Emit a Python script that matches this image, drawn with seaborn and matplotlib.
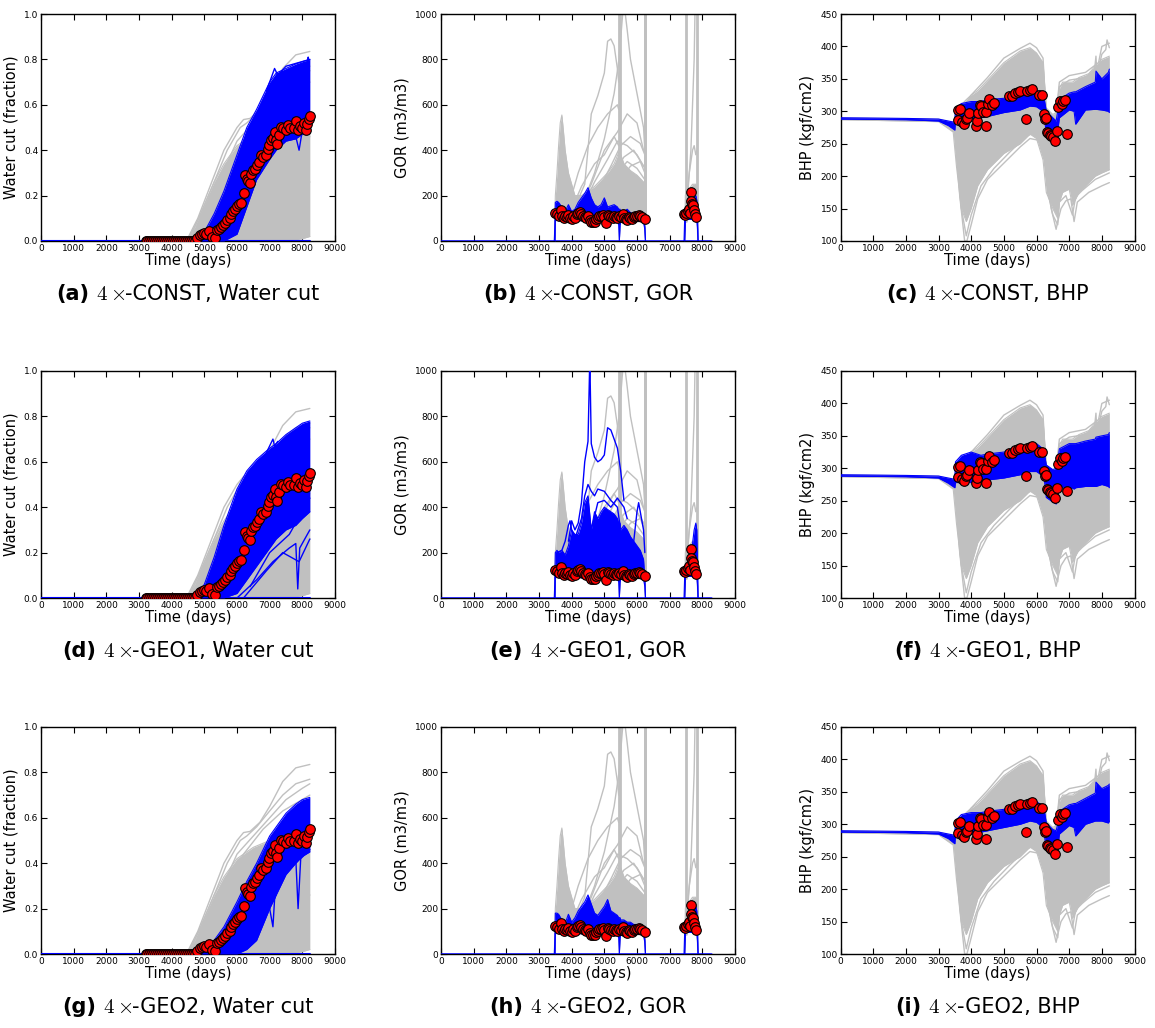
import matplotlib
matplotlib.use("Agg")
import matplotlib.pyplot as plt
import seaborn as sns
import pandas as pd
from matplotlib.offsetbox import TextArea, HPacker, AnnotationBbox

GRAY = "#c0c0c0"
BLUE = "#0000ff"
RED = "#ff0000"

# ------------------------------------------------------------------ observations
wc_obs_zero_t = [3200, 3260, 3320, 3380, 3440, 3500, 3560, 3620, 3680, 3740, 3800, 3860, 3920,
                 3980, 4040, 4100, 4160, 4220, 4280, 4340, 4400, 4460, 4520, 4580, 4640, 4700]
wc_obs_t = [4781, 4862, 4924, 4985, 5046, 5138, 5229, 5331, 5392, 5454,
            5515, 5576, 5637, 5698, 5780, 5831, 5882, 5943, 6004, 6065,
            6126, 6218, 6259, 6300, 6341, 6412, 6443, 6494, 6555, 6616,
            6677, 6728, 6799, 6891, 6942, 6993, 7054, 7105, 7156, 7207,
            7238, 7278, 7339, 7411, 7492, 7553, 7635, 7757, 7819, 7880,
            7941, 7992, 8063, 8114, 8155, 8196, 8237]
wc_obs_v = [0.015, 0.025, 0.032, 0.037, 0.030, 0.044, 0.018, 0.013, 0.047, 0.053,
            0.062, 0.072, 0.079, 0.091, 0.103, 0.120, 0.132, 0.143, 0.153, 0.162,
            0.169, 0.213, 0.290, 0.275, 0.265, 0.254, 0.297, 0.312, 0.319, 0.334,
            0.349, 0.378, 0.371, 0.379, 0.407, 0.422, 0.444, 0.454, 0.478, 0.444,
            0.426, 0.468, 0.501, 0.496, 0.487, 0.509, 0.500, 0.500, 0.529, 0.488,
            0.506, 0.496, 0.521, 0.490, 0.515, 0.537, 0.551]

gor_obs_t = [3500, 3550, 3600, 3660, 3700, 3750, 3800, 3850, 3900, 3950,
             4000, 4050, 4100, 4150, 4200, 4250, 4300, 4350, 4400, 4450,
             4500, 4550, 4600, 4650, 4700, 4750, 4800, 4850, 4900, 4950,
             5000, 5060, 5100, 5150, 5200, 5250, 5300, 5350, 5400, 5450,
             5500, 5560, 5600, 5650, 5700, 5750, 5800, 5850, 5900, 5950,
             6000, 6050, 6100, 6150, 6240,
             7450, 7480, 7510, 7550, 7580, 7610, 7640, 7660, 7690, 7720, 7750, 7780, 7820]
gor_obs_v = [122, 118, 112, 135, 108, 102, 110, 104, 114, 100,
             95, 110, 100, 118, 125, 128, 120, 112, 106, 100,
             110, 92, 85, 82, 85, 95, 100, 108, 110, 115,
             105, 80, 115, 112, 106, 100, 110, 105, 100, 110,
             105, 119, 100, 96, 92, 104, 100, 95, 104, 110,
             110, 115, 108, 104, 95,
             120, 115, 125, 130, 140, 125, 215, 175, 165, 160, 135, 120, 105]

bhp_obs_t = [3610, 3660, 3610, 3730, 3780, 3830, 3880, 3930, 4150, 4180,
             4220, 4260, 4300, 4370, 4450, 4450, 4500, 4550, 4650, 4700,
             5160, 5250, 5350, 5420, 5490, 5680, 5720, 5790, 5850, 6070,
             6180, 6220, 6260, 6290, 6310, 6350, 6400, 6450, 6500, 6560,
             6630, 6670, 6710, 6770, 6820, 6870, 6940]
bhp_obs_v = [302, 303, 286, 283, 280, 288, 289, 298, 278, 285,
             298, 309, 308, 299, 299, 278, 311, 319, 309, 313,
             323, 324, 328, 330, 332, 288, 331, 333, 334, 325,
             325, 296, 288, 290, 268, 266, 264, 262, 260, 254,
             269, 307, 316, 312, 316, 318, 265]

# ------------------------------------------------------------------ water cut ensembles
wc_prior_t = [4450, 4700, 5000, 5300, 5600, 6000, 6500, 7000, 7500, 8000, 8230]
wc_prior_hi = [0.0, 0.06, 0.16, 0.26, 0.34, 0.42, 0.47, 0.50, 0.53, 0.55, 0.56]
wc_prior_lo = [0.0, 0.0, 0.0, 0.0, 0.0, 0.0, 0.0, 0.0, 0.0, 0.01, 0.02]
wc_prior_lines = [
    ([4450, 4800, 5200, 5600, 6000, 6200, 6400, 6700, 7000, 7400, 7800, 8230],
     [0.0, 0.10, 0.25, 0.40, 0.50, 0.535, 0.54, 0.58, 0.65, 0.76, 0.82, 0.835]),
    ([4500, 4900, 5300, 5700, 6100, 6300, 6600, 7000, 7400, 7800, 8230],
     [0.0, 0.12, 0.26, 0.40, 0.50, 0.52, 0.56, 0.63, 0.70, 0.75, 0.77]),
    ([4600, 5000, 5500, 6000, 6500, 7000, 7500, 8000, 8230],
     [0.0, 0.10, 0.28, 0.44, 0.52, 0.60, 0.68, 0.73, 0.75]),
    ([4700, 5200, 5700, 6200, 6800, 7400, 8230],
     [0.0, 0.12, 0.30, 0.44, 0.55, 0.63, 0.70]),
    ([5600, 6200, 6800, 7400, 8000, 8230], [0.0, 0.10, 0.22, 0.33, 0.42, 0.46]),
    ([6300, 6900, 7500, 8000, 8230], [0.0, 0.06, 0.14, 0.22, 0.26]),
]
wc_post_t = [4700, 5000, 5300, 5600, 6000, 6300, 6600, 7000, 7200, 7500, 7800, 8000, 8230]
wc_const_hi = [0, 0.04, 0.12, 0.22, 0.38, 0.50, 0.58, 0.70, 0.74, 0.76, 0.78, 0.79, 0.80]
wc_const_lo = [0, 0, 0, 0, 0.03, 0.15, 0.27, 0.36, 0.40, 0.44, 0.45, 0.47, 0.48]
wc_geo1_hi = [0, 0.06, 0.18, 0.32, 0.48, 0.56, 0.61, 0.66, 0.68, 0.72, 0.75, 0.77, 0.78]
wc_geo1_lo = [0, 0, 0, 0, 0.02, 0.08, 0.14, 0.22, 0.26, 0.30, 0.32, 0.35, 0.38]
wc_geo2_hi = [0, 0.02, 0.06, 0.12, 0.23, 0.32, 0.40, 0.52, 0.56, 0.62, 0.66, 0.68, 0.69]
wc_geo2_lo = [0, 0, 0, 0, 0, 0.02, 0.06, 0.20, 0.26, 0.35, 0.40, 0.43, 0.45]
wc_const_lines = [
    ([6900, 7050, 7150, 7250, 7500, 8230], [0.66, 0.72, 0.76, 0.73, 0.77, 0.80]),
    ([7500, 7800, 7900, 7980, 8230], [0.45, 0.46, 0.40, 0.47, 0.49]),
    ([8150, 8180, 8200], [0.78, 0.81, 0.79]),
]
wc_geo1_lines = [
    ([6900, 7100, 7150, 7250], [0.64, 0.70, 0.67, 0.69]),
    ([6000, 6600, 7100, 7600, 7800, 7860, 7920, 8230], [0.0, 0.08, 0.16, 0.22, 0.24, 0.04, 0.22, 0.30]),
    ([6200, 6900, 7400, 7900, 8230], [0.0, 0.12, 0.20, 0.16, 0.26]),
    ([6400, 7000, 7600, 8230], [0.05, 0.20, 0.28, 0.44]),
]
wc_geo2_lines = [
    ([6700, 6950, 7100, 7150, 7300], [0.18, 0.24, 0.12, 0.24, 0.32]),
    ([7500, 7800, 7870, 7950, 8230], [0.40, 0.42, 0.20, 0.42, 0.46]),
]

# ------------------------------------------------------------------ GOR ensembles
gor_prior_t = [3470, 3500, 3550, 3600, 3650, 3700, 3750, 3800, 3900, 4000, 4100, 4300, 4500,
               4700, 4900, 5100, 5300, 5440, 5460, 5480, 5600, 5800, 6000, 6200, 6240, 6260]
gor_prior_hi = [0, 200, 300, 420, 520, 555, 480, 400, 300, 250, 200, 200, 220,
                240, 270, 300, 340, 390, 390, 390, 340, 310, 290, 260, 240, 0]
gor_prior_lo = [0, 90, 90, 90, 90, 90, 90, 90, 90, 90, 88, 88, 85,
                85, 85, 85, 85, 85, 0, 85, 85, 85, 85, 85, 60, 0]
gor_prior2_t = [7460, 7480, 7500, 7600, 7700, 7800, 7840, 7860]
gor_prior2_hi = [0, 200, 220, 230, 250, 250, 230, 0]
gor_prior2_lo = [0, 90, 95, 95, 95, 95, 90, 0]
gor_prior_lines = [
    ([4100, 4400, 4600, 4800, 5000, 5100, 5200, 5300, 5400, 5440],
     [150, 250, 560, 640, 740, 880, 890, 860, 760, 700]),
    ([4300, 4700, 5000, 5300, 5450, 5550, 5600, 5700, 5800, 6000, 6200, 6240],
     [150, 300, 450, 650, 800, 980, 1050, 930, 800, 650, 500, 400]),
    ([4200, 4600, 5000, 5400, 5700, 6000, 6200], [130, 250, 400, 480, 560, 520, 400]),
    ([4400, 4800, 5200, 5500, 5800, 6100, 6240], [130, 220, 330, 420, 460, 430, 380]),
    ([4500, 5000, 5300, 5600, 5900, 6200], [120, 200, 300, 370, 400, 330]),
    ([4600, 5000, 5400, 5800, 6100, 6240], [110, 170, 250, 330, 350, 300]),
    ([3900, 4200, 4500, 4800, 5100, 5400, 5440], [150, 300, 420, 500, 560, 600, 580]),
    ([4300, 4700, 5100, 5400, 5700, 6000, 6240], [140, 260, 360, 440, 420, 380, 320]),
    ([4700, 5100, 5400, 5700, 6000, 6240], [130, 230, 300, 350, 320, 270]),
    ([4000, 4300, 4700, 5000, 5300, 5440], [140, 240, 340, 380, 460, 420]),
    ([7500, 7600, 7650, 7700, 7750, 7780], [150, 300, 400, 600, 800, 1050]),
    ([7520, 7600, 7700, 7750, 7800, 7840], [130, 300, 400, 420, 380, 400]),
]
gor_prior_spikes = [5450, 5475, 6235, 6255, 7490, 7847]

gor_post_t = [3470, 3490, 3500, 3550, 3600, 3700, 3800, 3900, 4000, 4100,
              4200, 4300, 4400, 4500, 4600, 4700, 4800, 4900, 5000, 5100,
              5200, 5300, 5400, 5440, 5460, 5480, 5500, 5600, 5700, 5800,
              5900, 6000, 6100, 6200, 6240, 6260]
gor_post_lo = [0, 0, 90, 100, 100, 95, 95, 95, 95, 92,
               90, 90, 90, 88, 85, 85, 85, 85, 88, 88,
               88, 88, 88, 70, 0, 70, 88, 88, 88, 88,
               88, 88, 88, 85, 50, 0]
gor_const_hi = [0, 100, 170, 175, 170, 150, 130, 160, 130, 140,
                170, 190, 210, 235, 190, 160, 150, 160, 190, 150,
                155, 160, 150, 140, 140, 140, 130, 130, 140, 125,
                120, 120, 115, 110, 60, 0]
gor_geo1_hi = [0, 120, 200, 210, 200, 210, 190, 230, 300, 280,
               280, 330, 420, 450, 300, 380, 350, 380, 400, 390,
               380, 370, 350, 330, 330, 330, 300, 320, 300, 270,
               250, 230, 210, 170, 80, 0]
gor_geo2_hi = [0, 100, 180, 180, 175, 150, 135, 175, 140, 160,
               190, 210, 230, 260, 220, 180, 170, 190, 210, 240,
               190, 180, 170, 160, 160, 160, 150, 150, 140, 140,
               130, 130, 125, 120, 60, 0]
gor_post2_t = [7440, 7460, 7480, 7500, 7550, 7600, 7650, 7700, 7750, 7800, 7830, 7850, 7870]
gor_post2_lo = [0, 0, 90, 95, 95, 95, 95, 95, 95, 95, 90, 60, 0]
gor_const2_hi = [0, 100, 110, 115, 120, 125, 140, 170, 190, 200, 180, 120, 0]
gor_geo1_2_hi = [0, 100, 120, 130, 150, 170, 200, 240, 300, 330, 300, 150, 0]
gor_geo2_2_hi = [0, 100, 110, 120, 125, 130, 150, 180, 200, 210, 190, 120, 0]
gor_geo1_lines = [
    ([3900, 4000, 4100, 4200, 4300, 4400, 4500, 4550, 4560, 4600, 4700, 4800, 4900,
      5000, 5100, 5200, 5300, 5400, 5500, 5600],
     [250, 340, 300, 330, 420, 600, 690, 1020, 1020, 680, 620, 600, 610,
      630, 750, 740, 700, 660, 560, 430]),
    ([3900, 4100, 4300, 4400, 4500, 4600, 4700, 4800, 5000, 5200, 5400, 5500],
     [200, 260, 350, 450, 500, 470, 450, 480, 470, 430, 400, 300]),
    ([3550, 3700, 3800, 3900, 3950, 4000, 4100], [200, 210, 250, 320, 340, 300, 260]),
    ([5900, 6000, 6050, 6100, 6200, 6240], [250, 380, 420, 380, 300, 200]),
    ([4600, 4800, 5000, 5200, 5400, 5600, 5700], [300, 420, 430, 400, 440, 400, 350]),
]

# ------------------------------------------------------------------ BHP ensembles
bhp_prior_t = [0, 3000, 3450, 3550, 3700, 3850, 4000, 4200, 4500, 5000, 5500, 5800, 6000,
               6200, 6300, 6500, 6650, 6700, 6800, 7000, 7100, 7300, 7600, 7800, 8000, 8230]
bhp_prior_hi = [290, 288, 282, 300, 310, 318, 325, 332, 348, 375, 393, 398, 390,
                375, 305, 295, 300, 335, 345, 345, 345, 352, 358, 370, 380, 385]
bhp_prior_lo = [287, 284, 268, 215, 150, 130, 150, 185, 210, 235, 250, 265, 258,
                225, 175, 150, 135, 160, 175, 180, 155, 175, 190, 200, 205, 210]
bhp_prior_lines = [
    ([3480, 3650, 3800, 3870, 4000, 4200, 4500, 5000, 5500, 5800, 6100, 6200],
     [280, 170, 100, 100, 125, 165, 195, 220, 245, 258, 255, 240]),
    ([3480, 3700, 3850, 4000, 4300, 4700, 5200, 5700, 6000, 6200],
     [278, 150, 108, 140, 185, 212, 238, 262, 268, 235]),
    ([6150, 6300, 6450, 6600, 6650, 6750, 6900, 7050, 7150, 7250, 7600, 8000, 8230],
     [320, 200, 150, 118, 130, 150, 162, 165, 130, 160, 175, 185, 190]),
    ([6150, 6350, 6500, 6650, 6700, 6900, 7100, 7200, 7400, 7800, 8230],
     [300, 175, 140, 125, 160, 170, 140, 168, 178, 195, 205]),
    ([3480, 4000, 4500, 5000, 5500, 5800, 6000, 6200, 6300, 6600, 6700, 7000, 7500,
      7780, 7820, 7850, 8000, 8120, 8160, 8230],
     [283, 325, 352, 382, 397, 405, 398, 382, 292, 292, 338, 348, 352,
      365, 385, 355, 388, 395, 410, 398]),
    ([6600, 6700, 7000, 7500, 7900, 8000, 8230], [295, 345, 355, 360, 375, 400, 405]),
]
bhp_post_t = [0, 1000, 2000, 3000, 3300, 3500, 3520, 3700, 4000, 4300, 4500, 5000, 5500,
              5800, 6000, 6200, 6250, 6300, 6500, 6600, 6650, 6700, 7000, 7150, 7200,
              7500, 7800, 7820, 8000, 8200, 8230]
bhp_const_hi = [290, 289.5, 289, 288, 285, 283, 305, 312, 315, 315, 318, 320, 327,
                333, 333, 325, 315, 300, 290, 285, 300, 318, 328, 330, 330,
                338, 345, 362, 350, 360, 365]
bhp_const_lo = [288, 287.5, 287, 285, 278, 271, 285, 288, 288, 290, 292, 298, 302,
                308, 307, 300, 285, 268, 262, 262, 270, 290, 302, 300, 280,
                302, 303, 303, 302, 300, 298]
bhp_geo1_hi = [290, 289.5, 289, 288, 285, 283, 310, 320, 325, 320, 322, 325, 330,
               335, 338, 330, 320, 305, 298, 300, 310, 330, 338, 338, 338,
               342, 345, 348, 350, 352, 355]
bhp_geo1_lo = [288, 287.5, 287, 285, 277, 270, 278, 278, 278, 280, 282, 285, 290,
               295, 295, 288, 278, 255, 248, 245, 255, 270, 272, 268, 270,
               272, 272, 272, 275, 272, 270]
bhp_geo2_hi = [290, 289.5, 289, 288, 285, 283, 305, 315, 318, 318, 320, 323, 330,
               335, 335, 328, 318, 302, 292, 290, 300, 320, 330, 332, 332,
               340, 348, 365, 355, 360, 362]
bhp_geo2_lo = [288, 287.5, 287, 285, 278, 270, 283, 285, 285, 288, 290, 295, 300,
               305, 303, 295, 280, 262, 256, 255, 262, 285, 298, 295, 282,
               300, 305, 305, 305, 302, 305]

methods = ["CONST", "GEO1", "GEO2"]
letters = ["a", "b", "c", "d", "e", "f", "g", "h", "i"]

# ------------------------------------------------------------------ style
sns.set_theme(style="white")
plt.rcParams.update({
    "font.family": ["DejaVu Sans"],
    "mathtext.fontset": "cm",
    "axes.edgecolor": "black",
    "axes.linewidth": 1.0,
    "xtick.direction": "in",
    "ytick.direction": "in",
    "xtick.top": True,
    "ytick.right": True,
    "xtick.bottom": True,
    "ytick.left": True,
    "xtick.major.size": 4,
    "ytick.major.size": 4,
    "xtick.major.width": 0.8,
    "ytick.major.width": 0.8,
    "xtick.major.pad": 2,
    "ytick.major.pad": 2,
    "xtick.labelsize": 6.5,
    "ytick.labelsize": 6.5,
    "xtick.color": "black",
    "ytick.color": "black",
    "axes.labelsize": 10.5,
    "axes.labelcolor": "black",
})

fig = plt.figure(figsize=(11.55, 10.28), dpi=100)
W, H = 1155.0, 1028.0
col_left = [41, 441, 840.5]
row_bottom = [241, 598, 954]
ax_w, ax_h = 294, 227


def line(ax, t, v, color, lw, z):
    sns.lineplot(x=t, y=v, color=color, lw=lw, estimator=None, sort=False,
                 ax=ax, zorder=z, legend=False)


def band(ax, t, lo, hi, color, z):
    ax.fill_between(t, lo, hi, color=color, lw=0, zorder=z)
    line(ax, t, hi, color, 0.8, z)
    line(ax, t, lo, color, 0.8, z)


def obs(ax, t, v):
    df = pd.DataFrame({"t": t, "v": v})
    sns.scatterplot(data=df, x="t", y="v", ax=ax, color=RED, edgecolor="black",
                    linewidth=0.8, s=48, zorder=10, legend=False)


def caption(ax, letter, method, var):
    a = TextArea("(%s)" % letter, textprops=dict(fontsize=15, fontweight="bold", color="black"))
    b = TextArea(r"$4\times$", textprops=dict(fontsize=15, color="black"))
    c = TextArea("-%s, %s" % (method, var), textprops=dict(fontsize=15, color="black"))
    inner = HPacker(children=[b, c], align="baseline", pad=0, sep=0)
    box = HPacker(children=[a, inner], align="baseline", pad=0, sep=5)
    ab = AnnotationBbox(box, (0.5, 0.0), xycoords=ax.transAxes, xybox=(0, -38),
                        boxcoords="offset points", frameon=False, box_alignment=(0.5, 0.5),
                        annotation_clip=False)
    ax.add_artist(ab)


wc_post = {"CONST": (wc_const_lo, wc_const_hi, wc_const_lines),
           "GEO1": (wc_geo1_lo, wc_geo1_hi, wc_geo1_lines),
           "GEO2": (wc_geo2_lo, wc_geo2_hi, wc_geo2_lines)}
gor_post = {"CONST": (gor_const_hi, gor_const2_hi, []),
            "GEO1": (gor_geo1_hi, gor_geo1_2_hi, gor_geo1_lines),
            "GEO2": (gor_geo2_hi, gor_geo2_2_hi, [])}
bhp_post = {"CONST": (bhp_const_lo, bhp_const_hi),
            "GEO1": (bhp_geo1_lo, bhp_geo1_hi),
            "GEO2": (bhp_geo2_lo, bhp_geo2_hi)}

k = 0
for r, m in enumerate(methods):
    for c in range(3):
        left = col_left[c] / W
        bottom = 1 - row_bottom[r] / H
        ax = fig.add_axes([left, bottom, ax_w / W, ax_h / H])
        if c == 0:
            band(ax, wc_prior_t, wc_prior_lo, wc_prior_hi, GRAY, 1)
            for t, v in wc_prior_lines:
                line(ax, t, v, GRAY, 1.0, 2)
            line(ax, [0, 8230], [0, 0], BLUE, 1.5, 3)
            lo, hi, extra = wc_post[m]
            band(ax, wc_post_t, lo, hi, BLUE, 3)
            for t, v in extra:
                line(ax, t, v, BLUE, 1.0, 4)
            obs(ax, wc_obs_zero_t, [0.0] * len(wc_obs_zero_t))
            obs(ax, wc_obs_t, wc_obs_v)
            ax.set_ylim(0, 1.0)
            ax.set_yticks([0.0, 0.2, 0.4, 0.6, 0.8, 1.0])
            ax.set_yticklabels(["0.0", "0.2", "0.4", "0.6", "0.8", "1.0"])
            ax.set_ylabel("Water cut (fraction)", labelpad=4)
            var = "Water cut"
        elif c == 1:
            band(ax, gor_prior_t, gor_prior_lo, gor_prior_hi, GRAY, 1)
            band(ax, gor_prior2_t, gor_prior2_lo, gor_prior2_hi, GRAY, 1)
            for t, v in gor_prior_lines:
                line(ax, t, v, GRAY, 1.0, 2)
            for s in gor_prior_spikes:
                line(ax, [s, s], [90, 1100], GRAY, 2.0, 2)
            line(ax, [0, 8250], [0, 0], BLUE, 1.8, 3)
            hi, hi2, extra = gor_post[m]
            band(ax, gor_post_t, gor_post_lo, hi, BLUE, 3)
            band(ax, gor_post2_t, gor_post2_lo, hi2, BLUE, 3)
            for t, v in extra:
                line(ax, t, v, BLUE, 1.0, 4)
            obs(ax, gor_obs_t, gor_obs_v)
            ax.set_ylim(0, 1000)
            ax.set_yticks([0, 200, 400, 600, 800, 1000])
            ax.set_ylabel("GOR (m3/m3)", labelpad=4)
            var = "GOR"
        else:
            band(ax, bhp_prior_t, bhp_prior_lo, bhp_prior_hi, GRAY, 1)
            for t, v in bhp_prior_lines:
                line(ax, t, v, GRAY, 1.0, 2)
            lo, hi = bhp_post[m]
            band(ax, bhp_post_t, lo, hi, BLUE, 3)
            obs(ax, bhp_obs_t, bhp_obs_v)
            ax.set_ylim(100, 450)
            ax.set_yticks([100, 150, 200, 250, 300, 350, 400, 450])
            ax.set_ylabel("BHP (kgf/cm2)", labelpad=4)
            var = "BHP"
        ax.set_xlim(0, 9000)
        ax.set_xticks(range(0, 9001, 1000))
        ax.set_xticklabels([str(x) for x in range(0, 9001, 1000)])
        ax.set_xlabel("Time (days)", labelpad=0)
        for sp in ax.spines.values():
            sp.set_visible(True)
            sp.set_color("black")
        caption(ax, letters[k], m, var)
        k += 1

fig.savefig("out.png", dpi=100)
